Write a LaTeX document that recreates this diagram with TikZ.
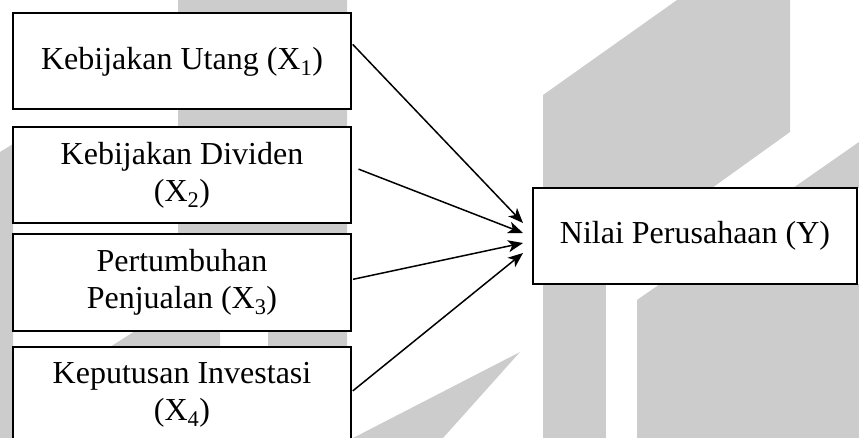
\documentclass[tikz,border=0pt]{standalone}
\usepackage{fontspec}
\setmainfont{Liberation Serif}
\usetikzlibrary{arrows.meta,calc}
\definecolor{wmgray}{RGB}{204,204,204}
\tikzset{
	varbox/.style={draw,line width=2pt,fill=white,minimum width=338pt,minimum height=96pt,inner sep=0pt,align=center,font=\fontsize{32}{37}\selectfont},
	link/.style={line width=1.5pt,-{Stealth[length=15pt,width=12pt,inset=4pt]}}
}
\begin{document}
\begin{tikzpicture}[x=1pt,y=-1pt,line join=miter]
				\useasboundingbox (0,0) rectangle (859,438);
				\fill[wmgray] (0,152) -- (13,144) -- (13,438) -- (0,438) -- cycle;
				\fill[wmgray] (178,0) -- (347,0) -- (347,438) -- (268,438) -- (268,300) -- (178,300) -- cycle;
				\fill[wmgray] (110,347) -- (135,331) -- (220,331) -- (220,347) -- cycle;
				\fill[wmgray] (543,95) -- (677,0) -- (790,0) -- (790,132) -- (712,188) -- (543,188) -- cycle;
				\fill[wmgray] (793,188) -- (859,142) -- (859,188) -- cycle;
				\fill[wmgray] (543,284) -- (606,284) -- (606,438) -- (543,438) -- cycle;
				\fill[wmgray] (637,300) -- (660,284) -- (859,284) -- (859,438) -- (637,438) -- cycle;
				\fill[wmgray] (520,352) -- (443,438) -- (353,438) -- cycle;
				\node[varbox,minimum width=324pt] (y) at (695,236) {Nilai Perusahaan (Y)};
				\foreach \i/\y/\txt in {1/61.5/{Kebijakan Utang (X\textsubscript{1})},2/175.5/{Kebijakan Dividen\\(X\textsubscript{2})},3/282.5/{Pertumbuhan\\Penjualan (X\textsubscript{3})},4/394.5/{Keputusan Investasi\\(X\textsubscript{4})}}
				\node[varbox] (x\i) at (182,\y) {\txt};
				\foreach \i/\dy in {1/-13,2/-3,3/7,4/17}
				\coordinate (t\i) at ($(y.west)+(-9,\dy)$);
				\foreach \i/\a/\gap in {1/6.6/1,2/3.6/7,3/1.2/1,4/1.2/1}
				\draw[link,shorten <=\gap pt] (x\i.\a) -- (t\i);
			\end{tikzpicture}
\end{document}
